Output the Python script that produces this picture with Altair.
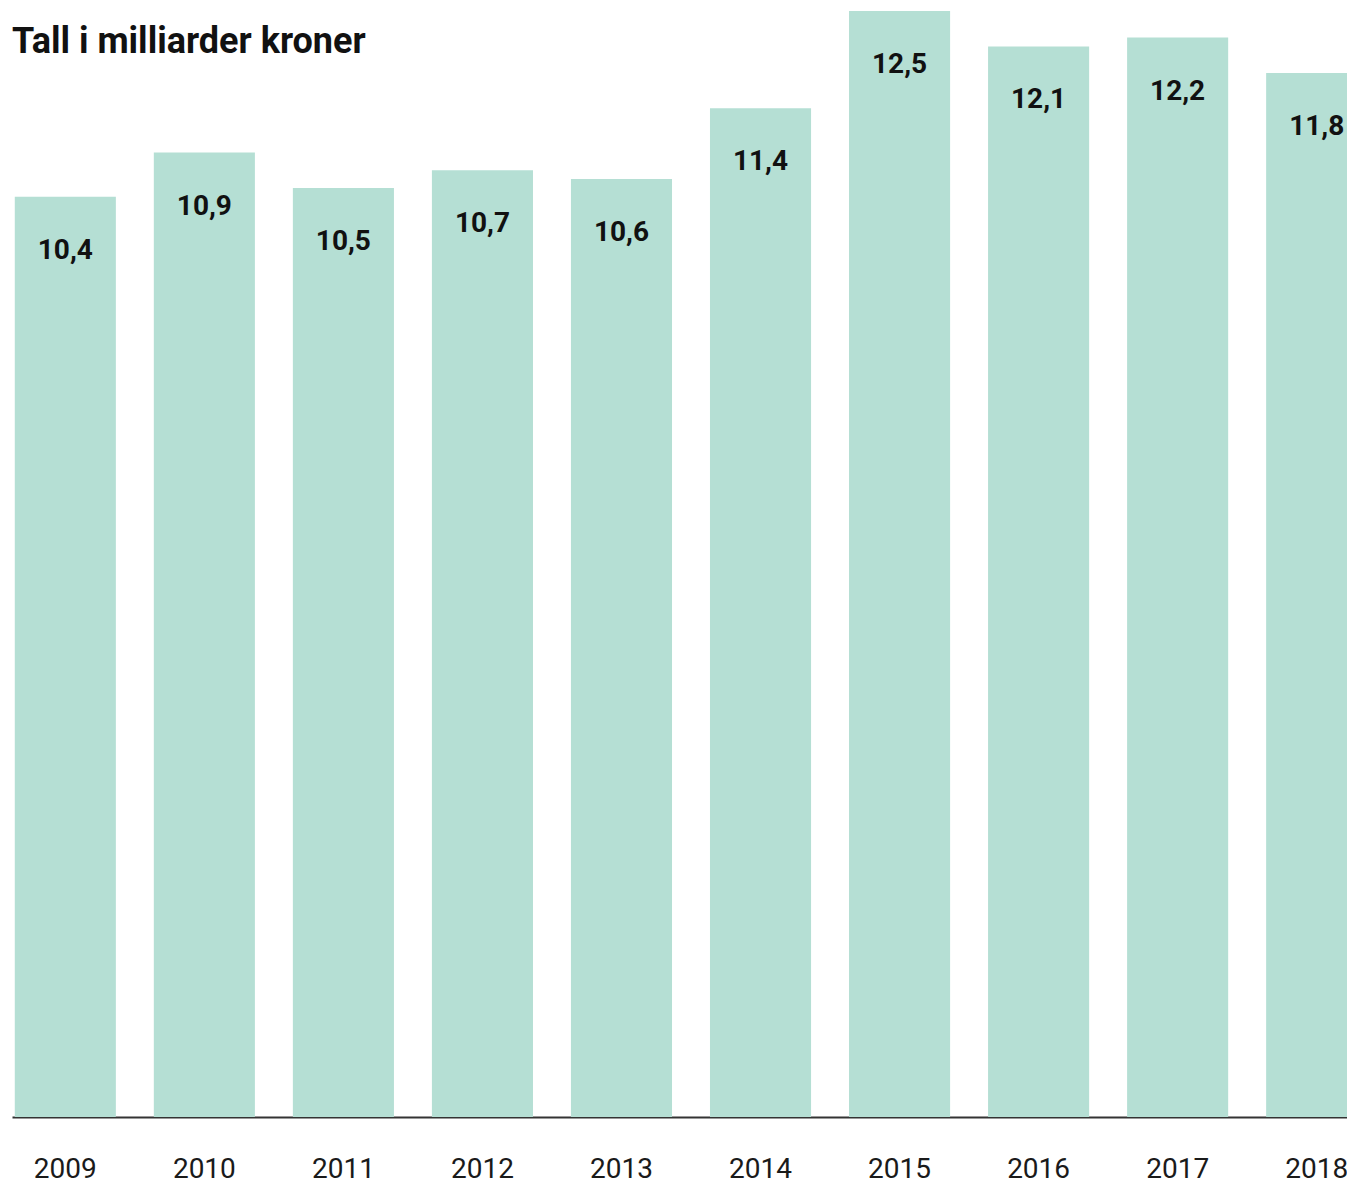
import altair as alt
import pandas as pd

years = ["2009", "2010", "2011", "2012", "2013", "2014", "2015", "2016", "2017", "2018"]
values = [10.4, 10.9, 10.5, 10.7, 10.6, 11.4, 12.5, 12.1, 12.2, 11.8]
labels = ["10,4", "10,9", "10,5", "10,7", "10,6", "11,4", "12,5", "12,1", "12,2", "11,8"]
title_text = "Tall i milliarder kroner"

df = pd.DataFrame({"year": years, "value": values, "label": labels})

FONT = "Roboto"
BAR = "#b5dfd4"

x = alt.X(
    "year:N",
    sort=years,
    title=None,
    scale=alt.Scale(paddingInner=0.273, paddingOuter=0.02, range=[0, 1358]),
    axis=alt.Axis(
        labelAngle=0,
        labelFont=FONT,
        labelFontSize=28,
        labelColor="#1a1a1a",
        labelPadding=38,
        ticks=False,
        tickSize=0,
        domainColor="#333333",
        domainWidth=2,
        grid=False,
    ),
)
y = alt.Y(
    "value:Q",
    title=None,
    scale=alt.Scale(domain=[0, 12.5], nice=False, zero=True),
    axis=None,
)

base = alt.Chart(df)
bars = base.mark_bar(color=BAR).encode(x=x, y=y)
text = base.mark_text(
    font=FONT, fontSize=28, fontWeight="bold", color="#111111",
    baseline="alphabetic", align="center", dy=62,
).encode(x=x, y=y, text="label:N")

title = alt.Chart(pd.DataFrame({"t": [title_text]})).mark_text(
    font=FONT, fontSize=36, fontWeight="bold", color="#111111",
    align="left", baseline="alphabetic",
).encode(x=alt.value(0), y=alt.value(42), text="t:N")

chart = alt.layer(bars, text, title).properties(
    width=1335,
    height=1106,
    background="white",
    autosize=alt.AutoSizeParams(type="none"),
    padding={"left": 4, "top": 3, "right": 0, "bottom": 68},
).configure_view(stroke=None)

chart.save("out.html", embed_options={"renderer": "svg", "actions": False})
